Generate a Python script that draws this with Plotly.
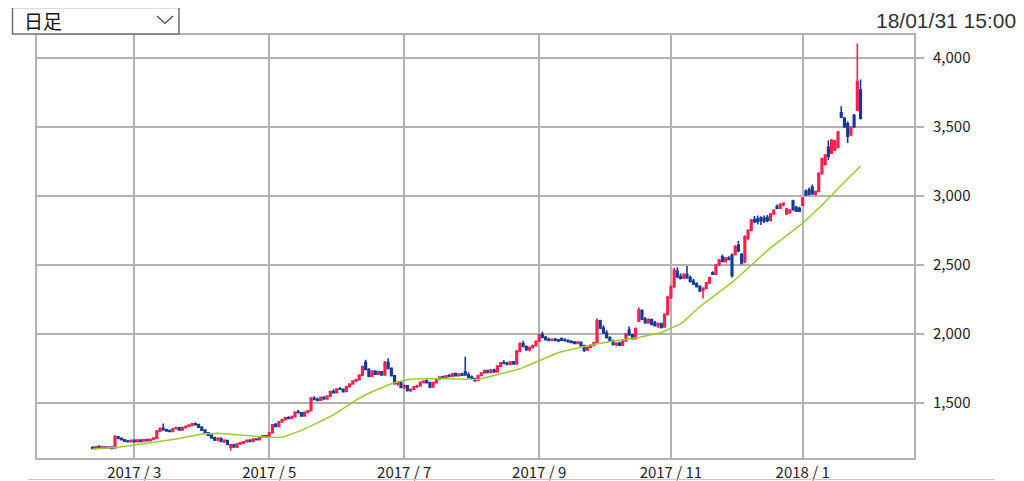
import plotly.graph_objects as go

# ---------------- data ----------------
month_labels = ["2017/2", "2017/3", "2017/4", "2017/5", "2017/6", "2017/7", "2017/8",
                "2017/9", "2017/10", "2017/11", "2017/12", "2018/1"]
month_days = [13, 22, 20, 20, 22, 20, 22, 20, 21, 20, 21, 19]   # trading days shown per month
tick_months = ["2017/3", "2017/5", "2017/7", "2017/9", "2017/11", "2018/1"]
tick_text = ["2017 / 3", "2017 / 5", "2017 / 7", "2017 / 9", "2017 / 11", "2018 / 1"]

open_ = [
    1175,1168,1182,1172,1178,1170,1178,1170,1252,1240,1230,1220,1216,
    1226,1216,1228,1218,1230,1224,1234,1242,1292,1314,1302,1296,1290,1310,1316,1302,1318,1328,1334,1346,1340,1322,
    1300,1280,1264,1244,1228,1240,1218,1224,1176,1194,1178,1200,1208,1216,1226,1218,1236,1230,1250,1258,
    1252,1282,1340,1326,1360,1376,1390,1384,1398,1432,1426,1402,1428,1440,1530,1522,1516,1538,1526,1546,
    1580,1572,1598,1596,1580,1614,1634,1656,1666,1698,1792,1740,1690,1726,1706,1722,1700,1790,1748,1694,1636,1644,
    1610,1622,1588,1596,1614,1620,1646,1656,1644,1612,1644,1670,1684,1678,1694,1690,1708,1694,1706,1722,
    1700,1684,1674,1660,1696,1714,1732,1718,1736,1722,1764,1790,1784,1776,1794,1780,1870,1926,1906,1882,1900,1912,
    1944,1992,1972,1958,1952,1958,1952,1964,1952,1950,1942,1938,1928,1936,1912,1880,1900,1914,1934,2092,
    2040,2004,1970,1946,1920,1930,1916,1946,2026,1990,1962,2090,2168,2104,2078,2100,2080,2056,2072,2048,2138,
    2262,2340,2450,2412,2400,2428,2404,2378,2360,2340,2312,2328,2366,2440,2430,2496,2556,2522,2546,2566,
    2572,2640,2572,2520,2690,2748,2826,2830,2836,2834,2840,2820,2866,2920,2908,2936,2866,2876,2960,2912,2906,
    2930,3030,3040,3060,3010,3032,3160,3226,3350,3306,3330,3350,3600,3560,3520,3440,3580,3620,3764,
]
high = [
    1182,1185,1188,1184,1182,1182,1180,1262,1258,1246,1236,1228,1230,
    1232,1232,1234,1236,1238,1238,1248,1300,1320,1348,1310,1304,1316,1322,1320,1322,1334,1342,1352,1356,1344,1326,
    1306,1286,1270,1252,1246,1246,1234,1228,1200,1198,1206,1214,1222,1232,1234,1240,1242,1254,1262,1264,
    1284,1344,1352,1366,1382,1396,1400,1404,1436,1446,1432,1436,1446,1540,1546,1536,1544,1546,1552,1586,
    1596,1604,1612,1600,1620,1640,1662,1672,1704,1766,1810,1748,1736,1734,1730,1728,1800,1820,1752,1700,1652,1648,
    1630,1626,1602,1620,1628,1652,1660,1670,1648,1650,1676,1690,1694,1700,1706,1714,1718,1712,1716,1832,
    1720,1696,1680,1702,1720,1740,1738,1742,1744,1770,1794,1806,1796,1800,1800,1880,1936,1948,1914,1906,1918,1950,
    1998,2014,1984,1970,1966,1968,1962,1972,1966,1956,1952,1946,1942,1940,1918,1906,1920,1940,2110,2100,
    2060,2024,1980,1956,1936,1940,1952,2004,2050,1996,2044,2190,2174,2120,2110,2108,2092,2080,2078,2146,2274,
    2350,2476,2480,2436,2436,2490,2420,2396,2372,2350,2336,2374,2412,2452,2504,2540,2572,2552,2560,2580,
    2640,2670,2584,2712,2756,2830,2852,2856,2850,2856,2858,2874,2900,2934,2944,2950,2910,2900,2970,2924,2918,
    2990,3044,3058,3080,3034,3168,3276,3300,3400,3410,3404,3468,3646,3568,3536,3500,3590,4102,3840,
]
low = [
    1162,1165,1170,1168,1166,1166,1164,1168,1236,1226,1214,1210,1212,
    1212,1212,1214,1214,1220,1220,1226,1238,1286,1296,1288,1284,1286,1304,1296,1298,1312,1320,1330,1334,1318,1296,
    1276,1260,1238,1222,1220,1214,1206,1190,1150,1172,1170,1194,1200,1210,1214,1214,1224,1226,1244,1248,
    1248,1278,1322,1322,1354,1370,1378,1380,1394,1420,1396,1396,1420,1436,1516,1510,1512,1520,1520,1540,
    1566,1568,1590,1572,1576,1608,1628,1648,1660,1692,1736,1684,1684,1700,1700,1696,1696,1740,1690,1630,1620,1604,
    1596,1580,1574,1590,1606,1614,1638,1640,1604,1608,1640,1662,1672,1674,1684,1686,1690,1688,1692,1694,
    1676,1666,1650,1654,1690,1708,1712,1714,1716,1718,1758,1778,1770,1770,1776,1776,1864,1900,1876,1870,1890,1906,
    1938,1966,1950,1944,1944,1946,1940,1948,1944,1936,1932,1924,1922,1908,1866,1876,1894,1908,1930,2030,
    1998,1964,1940,1914,1906,1910,1912,1940,1984,1958,1956,2084,2096,2070,2070,2060,2050,2040,2036,2044,2130,
    2250,2332,2400,2392,2396,2396,2370,2352,2334,2300,2254,2320,2358,2424,2426,2490,2516,2514,2530,2406,
    2566,2590,2500,2510,2676,2740,2800,2790,2786,2800,2806,2814,2860,2900,2904,2920,2858,2868,2890,2880,2880,
    2926,2996,3000,3004,3000,3024,3150,3218,3258,3300,3320,3340,3560,3490,3380,3430,3490,3610,3550,
]
close = [
    1168,1180,1174,1180,1170,1178,1168,1255,1240,1230,1220,1216,1226,
    1216,1228,1218,1230,1224,1234,1242,1292,1312,1302,1294,1290,1310,1318,1302,1318,1328,1336,1346,1340,1322,1300,
    1280,1264,1244,1228,1240,1218,1228,1196,1194,1178,1200,1208,1216,1226,1218,1236,1230,1250,1258,1252,
    1280,1338,1326,1360,1376,1390,1384,1398,1430,1426,1402,1428,1440,1530,1522,1516,1538,1526,1546,1580,
    1572,1598,1596,1578,1614,1634,1656,1666,1698,1760,1740,1690,1726,1706,1722,1700,1790,1748,1694,1636,1644,1610,
    1622,1588,1596,1614,1620,1646,1654,1644,1612,1644,1670,1684,1678,1694,1690,1708,1694,1706,1698,1700,
    1684,1674,1660,1696,1714,1732,1718,1736,1722,1764,1788,1784,1776,1794,1780,1870,1926,1906,1882,1900,1912,1944,
    1990,1972,1956,1950,1956,1950,1946,1952,1948,1940,1936,1928,1938,1912,1880,1900,1914,1934,2092,2040,
    2004,1970,1946,1920,1930,1916,1946,1998,1990,1962,2036,2168,2104,2078,2100,2066,2056,2072,2044,2138,2262,
    2338,2460,2412,2400,2428,2404,2378,2360,2340,2310,2328,2366,2404,2430,2496,2530,2522,2546,2538,2420,
    2630,2600,2512,2700,2748,2820,2810,2812,2818,2816,2820,2866,2892,2908,2936,2944,2902,2892,2898,2888,2886,
    2982,3004,3010,3014,3028,3160,3266,3292,3284,3400,3396,3460,3570,3500,3430,3494,3500,3824,3560,
]
ma_line = [
    1163,1164,1165,1166,1167,1168,1170,1172,1175,1179,1183,1187,1190,
    1194,1197,1199,1202,1205,1208,1211,1214,1216,1219,1223,1227,1231,1235,1239,1245,1250,1255,1261,1266,1269,1272,
    1274,1276,1277,1278,1277,1276,1275,1273,1271,1269,1267,1265,1262,1260,1257,1255,1252,1250,1249,1248,
    1247,1246,1246,1246,1250,1256,1263,1271,1280,1289,1298,1308,1318,1328,1340,1352,1364,1376,1386,1395,
    1411,1427,1443,1459,1475,1489,1503,1517,1531,1545,1556,1567,1578,1589,1599,1609,1618,1627,1636,1645,1651,1656,
    1661,1666,1668,1670,1671,1672,1673,1674,1675,1675,1675,1674,1674,1673,1672,1672,1671,1670,1669,1668,
    1666,1665,1663,1666,1672,1678,1684,1690,1695,1700,1706,1712,1718,1723,1729,1735,1744,1754,1764,1774,1785,1796,
    1806,1816,1826,1836,1846,1855,1862,1868,1874,1880,1886,1891,1896,1901,1906,1911,1916,1921,1925,1929,
    1933,1937,1941,1945,1948,1951,1953,1956,1958,1962,1967,1971,1976,1981,1986,1990,1995,2000,2008,2018,2028,
    2040,2050,2060,2070,2088,2108,2130,2152,2174,2195,2212,2230,2248,2266,2285,2303,2320,2337,2354,2371,
    2390,2411,2432,2453,2474,2496,2520,2544,2563,2582,2601,2620,2639,2658,2677,2694,2711,2728,2745,2762,2780,
    2800,2821,2842,2864,2886,2908,2929,2954,2979,3004,3029,3054,3078,3100,3122,3145,3168,3190,3213,
]
y_ticks = [1500, 2000, 2500, 3000, 3500, 4000]
stamp_text = "18/01/31 15:00"
period_text = "日足"

n = len(close)
assert len(open_) == n and len(high) == n and len(low) == n and len(ma_line) == n == sum(month_days)
x = list(range(n))

# first trading-day index of each month -> tick positions
starts, acc = {}, 0
for lab, d in zip(month_labels, month_days):
    starts[lab] = acc
    acc += d
tick_pos = [starts[m] for m in tick_months]

# ---------------- styling ----------------
RED = "#ff1f4f"
BLUE = "#123a9a"
GREEN = "#9acd32"
GRID = "#b2b2b2"
FONT = "Noto Sans CJK JP"

# the page body has an 8px margin, so the figure is placed 8px in from the window corner
OFF = 8
W, H = 1024 - OFF, 481 - OFF
L, R, T, B = 29, 110, 27, 23
PW, PH = W - L - R, H - T - B


def px(xpage):
    return (xpage - OFF - L) / PW


def py(ypage):
    return (H - B - (ypage - OFF)) / PH


fig = go.Figure()
fig.add_trace(go.Candlestick(
    x=x, open=open_, high=high, low=low, close=close,
    increasing=dict(line=dict(color=RED, width=1.6), fillcolor=RED),
    decreasing=dict(line=dict(color=BLUE, width=1.6), fillcolor=BLUE),
    whiskerwidth=0, hoverinfo="skip", showlegend=False,
))
fig.add_trace(go.Scatter(
    x=x, y=ma_line, mode="lines", line=dict(color=GREEN, width=1.5),
    hoverinfo="skip", showlegend=False,
))

fig.update_layout(
    width=W, height=H,
    margin=dict(l=L, r=R, t=T, b=B, pad=0, autoexpand=False),
    paper_bgcolor="white", plot_bgcolor="white",
    font=dict(family=FONT, size=15, color="#222"),
    showlegend=False,
    xaxis=dict(
        range=[-17.27, 255.64], rangeslider=dict(visible=False),
        tickmode="array", tickvals=tick_pos, ticktext=tick_text,
        showgrid=True, gridcolor=GRID, gridwidth=2,
        showline=True, linecolor=GRID, linewidth=2, mirror=True,
        ticks="", zeroline=False, tickfont=dict(size=15, color="#222"),
        automargin=False, fixedrange=True,
    ),
    yaxis=dict(
        range=[1098, 4163], side="right",
        tickmode="array", tickvals=y_ticks, tickformat=",d",
        showgrid=True, gridcolor=GRID, gridwidth=2,
        showline=True, linecolor=GRID, linewidth=2, mirror=True,
        ticks="outside", ticklen=8, tickwidth=2, tickcolor=GRID,
        ticklabelstandoff=6,
        zeroline=False, tickfont=dict(size=15, color="#222"),
        automargin=False, fixedrange=True,
    ),
)

shapes = [
    # bottom separator line under the axis labels
    dict(type="line", xref="paper", yref="paper", x0=px(28), x1=px(995), y0=py(479.5), y1=py(479.5),
         line=dict(color="#c8c8c8", width=1)),
    # dropdown box
    dict(type="rect", xref="paper", yref="paper", x0=px(12.5), x1=px(179), y0=py(34), y1=py(7.5),
         line=dict(color="#707070", width=1.5), fillcolor="white", layer="above"),
    # chevron
    dict(type="path", xref="paper", yref="paper",
         path=f"M {px(157)},{py(16)} L {px(165)},{py(23.5)} L {px(173)},{py(16)}",
         line=dict(color="#444", width=1.2), layer="above"),
]
fig.update_layout(shapes=shapes)

fig.add_annotation(x=px(22), y=py(21), xref="paper", yref="paper", text=period_text,
                   showarrow=False, xanchor="left", yanchor="middle",
                   font=dict(family=FONT, size=19, color="#111"))
fig.add_annotation(x=px(1017), y=py(20.5), xref="paper", yref="paper", text=stamp_text,
                   showarrow=False, xanchor="right", yanchor="middle", borderpad=0,
                   font=dict(family="Liberation Sans", size=21, color="#333"))

fig.write_html("out.html")
